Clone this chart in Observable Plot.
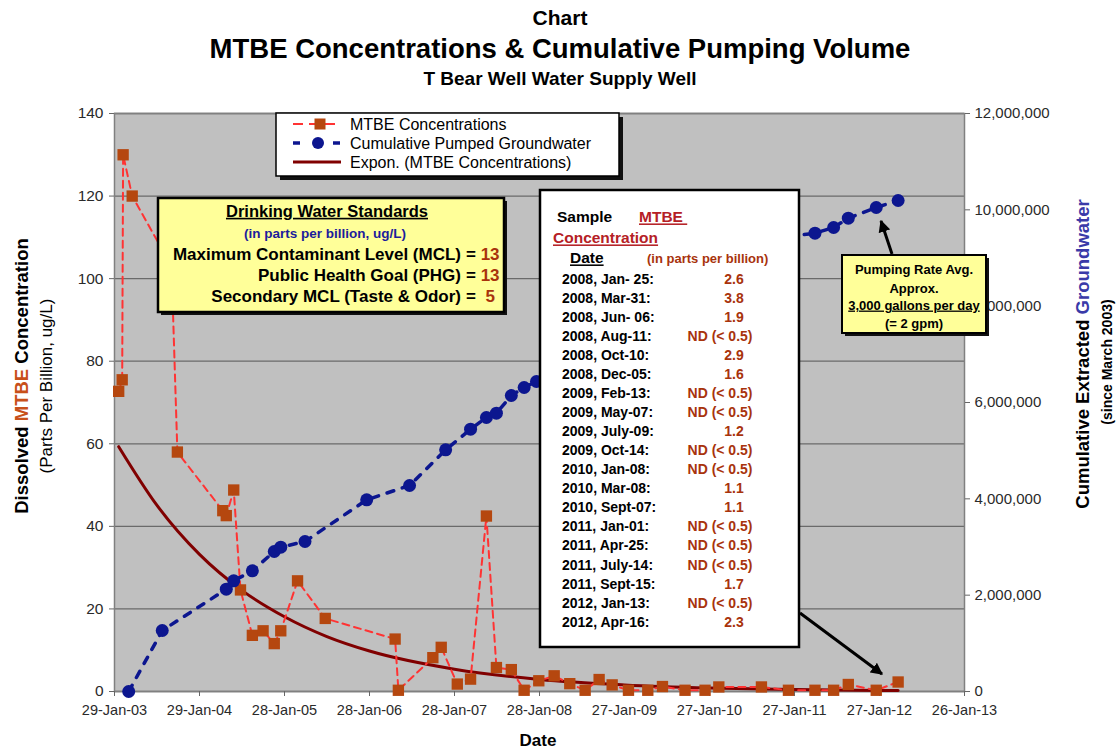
<!DOCTYPE html>
<html><head><meta charset="utf-8">
<script src="https://cdn.jsdelivr.net/npm/d3@7"></script>
<script src="https://cdn.jsdelivr.net/npm/@observablehq/plot@0.6"></script>
<style>
body{margin:0;background:#fff;}
#chart{width:1120px;height:751px;overflow:hidden;}
</style></head><body><div id="chart"></div>
<script>
// ---------- DATA ----------
const mtbeDates = ["2003-02-16","2003-03-03","2003-03-07","2003-04-15","2003-10-01","2003-10-26","2004-05-08","2004-05-23","2004-06-24","2004-07-23","2004-09-12","2004-10-28","2004-12-15","2005-01-12","2005-03-25","2005-07-22","2006-05-18","2006-06-01","2006-10-27","2006-12-02","2007-02-09","2007-04-07","2007-06-14","2007-07-27","2007-09-29","2007-11-23","2008-01-25","2008-03-31","2008-06-06","2008-08-11","2008-10-10","2008-12-05","2009-02-13","2009-05-07","2009-07-09","2009-10-14","2010-01-08","2010-03-08","2010-09-07","2011-01-01","2011-04-25","2011-07-14","2011-09-15","2012-01-13","2012-04-16"];
const mtbeValues = [72.7,75.5,130,120,103,58,43.8,42.6,48.8,24.6,13.6,14.7,11.6,14.7,26.8,17.7,12.7,0.3,8.2,10.7,1.8,3.0,42.5,5.8,5.3,0.3,2.6,3.8,1.9,0.3,2.9,1.6,0.3,0.3,1.2,0.3,0.3,1.1,1.1,0.3,0.3,0.3,1.7,0.3,2.3];

const pumpDates = ["2003-03-31","2003-08-22","2004-05-23","2004-06-24","2004-09-12","2004-12-15","2005-01-12","2005-04-26","2006-01-16","2006-07-19","2006-12-21","2007-04-07","2007-06-14","2007-07-27","2007-09-29","2007-11-23","2008-01-15","2011-01-01","2011-04-25","2011-07-14","2011-09-15","2012-01-13","2012-04-16"];
const pumpValues = [0,1266000,2124000,2298000,2506000,2907000,2996000,3114000,3980000,4277000,5018000,5446000,5689000,5778000,6145000,6311000,6436000,9446000,9515000,9633000,9827000,10049000,10194000];

// exponential trendline
const trendDates = ["2003-02-16","2003-07-29","2004-01-29","2004-07-29","2005-01-28","2005-07-29","2006-01-28","2007-01-28","2008-01-28","2009-01-27","2010-01-27","2011-01-27","2012-01-27","2012-04-16"];
const trendValues = [59.3,45.2,33.2,24.5,18.1,13.3,9.8,5.4,2.9,1.6,0.87,0.47,0.26,0.23];

const leftTicks = [0,20,40,60,80,100,120,140];
const rightTicks = [0,2000000,4000000,6000000,8000000,10000000,12000000];
const xTickDates = ["2003-01-29","2004-01-29","2005-01-28","2006-01-28","2007-01-28","2008-01-28","2009-01-27","2010-01-27","2011-01-27","2012-01-27","2013-01-26"];
const xTickLabels = ["29-Jan-03","29-Jan-04","28-Jan-05","28-Jan-06","28-Jan-07","28-Jan-08","27-Jan-09","27-Jan-10","27-Jan-11","27-Jan-12","26-Jan-13"];

const tableDates = ["2008, Jan- 25:","2008, Mar-31:","2008, Jun- 06:","2008, Aug-11:","2008, Oct-10:","2008, Dec-05:","2009, Feb-13:","2009, May-07:","2009, July-09:","2009, Oct-14:","2010, Jan-08:","2010, Mar-08:","2010, Sept-07:","2011, Jan-01:","2011, Apr-25:","2011, July-14:","2011, Sept-15:","2012, Jan-13:","2012, Apr-16:"];
const tableValues = ["2.6","3.8","1.9","ND (< 0.5)","2.9","1.6","ND (< 0.5)","ND (< 0.5)","1.2","ND (< 0.5)","ND (< 0.5)","1.1","1.1","ND (< 0.5)","ND (< 0.5)","ND (< 0.5)","1.7","ND (< 0.5)","2.3"];

const standardsLabels = ["Maximum Contaminant Level (MCL)","Public Health Goal (PHG)","Secondary MCL (Taste & Odor)"];
const standardsValues = ["13","13","5"];

const legendLabels = ["MTBE Concentrations","Cumulative Pumped Groundwater","Expon. (MTBE Concentrations)"];
const pumpNote = ["Pumping Rate Avg.","Approx.","3,000 gallons per day","(= 2 gpm)"];

// ---------- BUILD ----------
const FONT = "'Liberation Sans', Arial, Helvetica, sans-serif";
const parse = d3.utcParse("%Y-%m-%d");
const K = 140 / 12000000;
const mtbe = mtbeDates.map((d, i) => ({date: parse(d), value: mtbeValues[i]}));
const pump = pumpDates.map((d, i) => ({date: parse(d), value: pumpValues[i] * K}));
const trend = trendDates.map((d, i) => ({date: parse(d), value: trendValues[i]}));
const xTicks = xTickDates.map(parse);
const xLabelMap = new Map(xTicks.map((d, i) => [+d, xTickLabels[i]]));
const fmt = d3.format(",");

const C_SQ = "#b5470f", C_RED = "#ff3333", C_BLUE = "#0c168f", C_TREND = "#800000";

const plot = Plot.plot({
  width: 1120, height: 751,
  marginTop: 113, marginBottom: 60, marginLeft: 114, marginRight: 156,
  style: {fontFamily: FONT, fontSize: "15px", background: "#fff", color: "#2a2a2a", overflow: "visible"},
  x: {type: "utc", domain: [xTicks[0], xTicks[xTicks.length - 1]]},
  y: {domain: [0, 140]},
  marks: [
    Plot.frame({fill: "#c0c0c0"}),
    Plot.gridY(leftTicks, {stroke: "#6a6a6a", strokeOpacity: 1, strokeWidth: 1.3}),
    Plot.frame({stroke: "#808080", strokeWidth: 1.5}),
    Plot.axisY(leftTicks, {anchor: "left", label: null, tickSize: 5, tickPadding: 6, fontSize: 15.5, stroke: "#666"}),
    Plot.axisY(rightTicks.map(v => v * K), {anchor: "right", label: null, tickSize: 5, tickPadding: 5, fontSize: 15, stroke: "#666",
      tickFormat: d => fmt(Math.round(d / K))}),
    Plot.axisX(xTicks, {label: null, tickSize: 5, tickPadding: 8, fontSize: 14.5, stroke: "#666",
      tickFormat: d => xLabelMap.get(+d)}),
    Plot.line(trend, {x: "date", y: "value", stroke: C_TREND, strokeWidth: 3, curve: "monotone-x"}),
    Plot.line(mtbe, {x: "date", y: "value", stroke: C_RED, strokeWidth: 2, strokeDasharray: "7,5"}),
    Plot.dot(mtbe, {x: "date", y: "value", symbol: "square", r: 6.4, fill: C_SQ, stroke: "none"}),
    Plot.line(pump, {x: "date", y: "value", stroke: C_BLUE, strokeWidth: 3.5, strokeDasharray: "7,9"}),
    Plot.dot(pump, {x: "date", y: "value", r: 6.5, fill: C_BLUE, stroke: "none"})
  ]
});
document.getElementById("chart").appendChild(plot);

// ---------- ANNOTATIONS ----------
const svg = d3.select(plot);
const g = svg.append("g").attr("font-family", FONT);
const defs = svg.append("defs");
defs.append("marker").attr("id", "arrow").attr("viewBox", "0 0 10 10").attr("refX", 9).attr("refY", 5)
  .attr("markerWidth", 4).attr("markerHeight", 4).attr("orient", "auto")
  .append("path").attr("d", "M0,0L10,5L0,10z").attr("fill", "#000");

function txt(x, y, s, o = {}) {
  const t = g.append("text").attr("x", x).attr("y", y).attr("dy", "0.35em")
    .attr("text-anchor", o.anchor || "start").attr("font-size", o.size || 14)
    .attr("font-weight", o.bold ? "bold" : "normal").attr("fill", o.fill || "#000");
  if (o.underline) t.style("text-decoration", "underline");
  if (o.rotate) t.attr("transform", `rotate(${o.rotate},${x},${y})`);
  if (Array.isArray(s)) s.forEach(([str, col]) => t.append("tspan").attr("fill", col).text(str));
  else t.text(s);
  return t;
}
function box(x, y, w, h, fill, sw, sh) {
  if (sh) g.append("rect").attr("x", x + sh).attr("y", y + sh).attr("width", w).attr("height", h).attr("fill", "#111");
  g.append("rect").attr("x", x).attr("y", y).attr("width", w).attr("height", h).attr("fill", fill).attr("stroke", "#000").attr("stroke-width", sw);
}

// titles
txt(560, 18, "Chart", {anchor: "middle", size: 21, bold: true});
txt(560, 48, "MTBE Concentrations & Cumulative Pumping Volume", {anchor: "middle", size: 27.5, bold: true});
txt(560, 78, "T Bear Well Water Supply Well", {anchor: "middle", size: 19, bold: true});
txt(538, 740, "Date", {anchor: "middle", size: 17, bold: true});

// axis titles
txt(22, 376, [["Dissolved ", "#000"], ["MTBE", "#c8501a"], [" Concentration", "#000"]], {anchor: "middle", size: 18.5, bold: true, rotate: -90});
txt(46, 386, "(Parts Per Billion, ug/L)", {anchor: "middle", size: 17, rotate: -90});
txt(1083, 354, [["Cumulative Extracted ", "#000"], ["Groundwater", "#3a3aa8"]], {anchor: "middle", size: 18.5, bold: true, rotate: -90});
txt(1107, 362, "(since March 2003)", {anchor: "middle", size: 14, bold: true, rotate: -90});

// legend
box(276, 113, 343, 63, "#fff", 1.5, 4);
g.append("line").attr("x1", 293).attr("x2", 341).attr("y1", 124).attr("y2", 124).attr("stroke", C_RED).attr("stroke-width", 2).attr("stroke-dasharray", "10,6");
g.append("rect").attr("x", 314.5).attr("y", 118.5).attr("width", 11).attr("height", 11).attr("fill", C_SQ);
g.append("line").attr("x1", 293).attr("x2", 300).attr("y1", 143).attr("y2", 143).attr("stroke", C_BLUE).attr("stroke-width", 3.5);
g.append("line").attr("x1", 333).attr("x2", 340).attr("y1", 143).attr("y2", 143).attr("stroke", C_BLUE).attr("stroke-width", 3.5);
g.append("circle").attr("cx", 318).attr("cy", 143).attr("r", 6).attr("fill", C_BLUE);
g.append("line").attr("x1", 293).attr("x2", 341).attr("y1", 162).attr("y2", 162).attr("stroke", C_TREND).attr("stroke-width", 3);
legendLabels.forEach((s, i) => txt(350, 124 + i * 19.3, s, {size: 16}));

// drinking water standards
box(158, 198, 346, 114, "#ffff99", 2.5, 3);
txt(327, 211, "Drinking Water Standards", {anchor: "middle", size: 16.5, bold: true, underline: true});
txt(325, 233, "(in parts per billion, ug/L)", {anchor: "middle", size: 13.5, bold: true, fill: "#1c1c9c"});
standardsLabels.forEach((s, i) => {
  txt(461, 254 + i * 21.2, s, {anchor: "end", size: 17, bold: true});
  txt(466, 254 + i * 21.2, [["= ", "#000"], [(standardsValues[i].length < 2 ? " " : "") + standardsValues[i], "#a8330c"]], {size: 17, bold: true}).style("white-space", "pre");
});

// table
box(540, 190, 259, 457, "#fff", 2.5, 0);
txt(557, 217, "Sample", {size: 15.5, bold: true});
txt(639, 217, "MTBE ", {size: 15.5, bold: true, fill: "#b52025", underline: true}).style("white-space", "pre");
txt(553, 238, "Concentration", {size: 15.5, bold: true, fill: "#b52025", underline: true});
txt(570, 258, "Date", {size: 15.5, bold: true, underline: true});
txt(647, 258, "(in parts per billion)", {size: 13, bold: true, fill: "#a8330c"});
tableDates.forEach((s, i) => {
  const y = 279 + i * 19.04;
  txt(562, y, s, {size: 14, bold: true});
  const v = tableValues[i];
  txt(v.startsWith("ND") ? 720 : 734, y, v, {anchor: "middle", size: 14, bold: true, fill: "#a8330c"});
});

// pumping rate note
box(842, 255, 144, 78, "#ffff99", 2, 3);
pumpNote.forEach((s, i) => txt(914, [269, 288, 305, 323][i], s, {anchor: "middle", size: 13, bold: true, underline: i === 2}));

// arrows
g.append("line").attr("x1", 892).attr("y1", 254).attr("x2", 881).attr("y2", 221).attr("stroke", "#000").attr("stroke-width", 3).attr("marker-end", "url(#arrow)");
g.append("line").attr("x1", 800).attr("y1", 613).attr("x2", 882).attr("y2", 674).attr("stroke", "#000").attr("stroke-width", 3).attr("marker-end", "url(#arrow)");
</script></body></html>
